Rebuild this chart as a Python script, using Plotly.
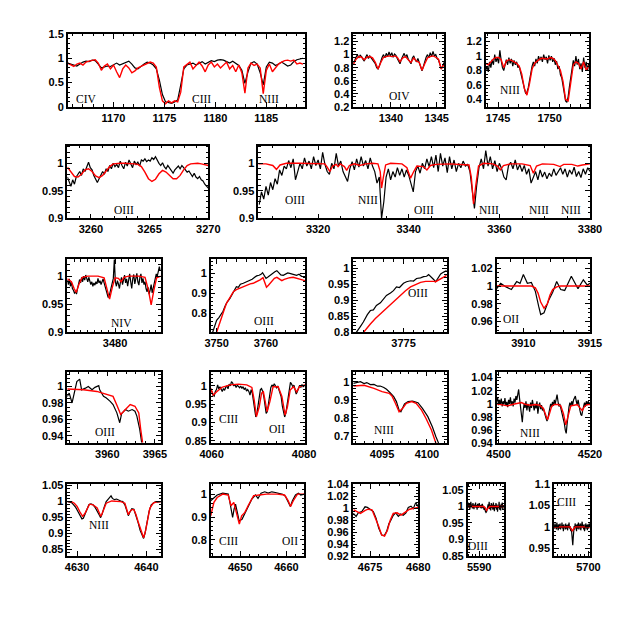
import numpy as np
import plotly.graph_objects as go

# page body has an 8px margin, so the figure is placed at (8, 8)
OFF = 8
W = H = 623 - 2 * OFF


def wave(start, step, vals):
    return np.round(start + step * np.arange(len(vals)), 3)


# ---------------- row 1 ----------------
civ_obs = [0.90, 0.88, 0.86, 0.84, 0.88, 0.92, 0.94, 0.93, 0.96, 0.95, 0.88, 0.80, 0.82, 0.84, 0.83,
           0.87, 0.90, 0.86, 0.89, 0.92, 0.94, 0.88, 0.80, 0.78, 0.84, 0.88, 0.92, 0.90, 0.86, 0.78,
           0.55, 0.25, 0.10, 0.08, 0.07, 0.10, 0.14, 0.45, 0.78, 0.86, 0.88, 0.90, 0.86, 0.90, 0.93,
           0.88, 0.92, 0.95, 0.93, 0.96, 0.97, 0.96, 0.93, 0.90, 0.94, 0.90, 0.85, 0.75, 0.48, 0.72,
           0.90, 0.93, 0.88, 0.70, 0.45, 0.82, 0.92, 0.90, 0.85, 0.88, 0.92, 0.88, 0.84, 0.86, 0.93,
           0.97, 0.99, 1.00]
civ_mod = [0.90, 0.87, 0.83, 0.88, 0.90, 0.86, 0.92, 0.94, 0.96, 0.97, 0.90, 0.75, 0.84, 0.88, 0.78,
           0.86, 0.72, 0.60, 0.78, 0.86, 0.80, 0.70, 0.74, 0.80, 0.83, 0.86, 0.88, 0.92, 0.90, 0.82,
           0.40, 0.12, 0.06, 0.12, 0.08, 0.12, 0.10, 0.30, 0.82, 0.88, 0.92, 0.78, 0.85, 0.92, 0.84,
           0.72, 0.86, 0.92, 0.82, 0.88, 0.80, 0.86, 0.92, 0.78, 0.85, 0.72, 0.86, 0.70, 0.28, 0.80,
           0.90, 0.85, 0.88, 0.80, 0.27, 0.75, 0.88, 0.72, 0.80, 0.88, 0.92, 0.95, 0.96, 0.94, 0.96,
           0.88, 0.90, 0.88]
civ_w = wave(1165.5, 0.3, civ_obs)

oiv_obs = [0.86, 0.92, 0.96, 1.00, 0.95, 0.99, 0.97, 0.93, 0.90, 0.96, 1.00, 0.94, 0.98, 0.95, 0.92,
           0.90, 0.86, 0.80, 0.78, 0.83, 0.90, 0.96, 1.00, 0.95, 1.02, 0.97, 1.04, 0.98, 1.03, 0.96,
           1.01, 0.99, 0.94, 0.91, 0.86, 0.93, 0.98, 1.02, 0.96, 1.00, 0.93, 0.90, 0.86, 0.95, 0.98,
           0.92, 0.89, 0.94, 0.87, 0.80, 0.75, 0.82, 0.90, 0.96, 1.00, 0.95, 1.03, 0.97, 1.05, 0.98,
           1.00, 0.94, 0.92, 0.85, 0.78, 0.82, 0.88]
oiv_mod = [0.85, 0.93, 0.97, 0.96, 0.92, 0.96, 0.97, 0.95, 0.88, 0.78, 0.88, 0.96, 0.97, 0.98, 0.97,
           0.98, 0.96, 0.89, 0.95, 0.97, 0.92, 0.88, 0.95, 0.90, 0.88, 0.76, 0.86, 0.95, 0.97, 0.98,
           0.96, 0.93, 0.78, 0.85]

n1750_obs = [0.80, 0.86, 0.78, 0.92, 0.84, 0.95, 0.88, 1.02, 0.92, 0.98, 0.90, 1.08, 0.94, 0.84, 0.80,
             0.90, 0.95, 0.88, 0.98, 0.90, 0.96, 0.86, 0.94, 0.88, 0.92, 0.84, 0.86, 0.78, 0.70, 0.60,
             0.52, 0.48, 0.50, 0.56, 0.66, 0.78, 0.86, 0.92, 0.86, 0.96, 0.90, 1.00, 0.94, 0.99, 0.92,
             1.02, 0.95, 0.99, 0.90, 1.01, 0.94, 1.00, 0.92, 0.97, 0.88, 0.93, 0.82, 0.86, 0.74, 0.70,
             0.58, 0.46, 0.38, 0.36, 0.44, 0.58, 0.70, 0.82, 0.94, 0.86, 1.00, 0.88, 0.96, 0.82, 0.90,
             0.78, 0.98, 0.84, 0.92, 0.80, 0.90]
n1750_mod = [0.90, 0.88, 0.92, 0.96, 0.98, 0.98, 0.95, 0.84, 0.93, 0.95, 0.94, 0.92, 0.90, 0.86, 0.75,
             0.55, 0.46, 0.62, 0.82, 0.90, 0.93, 0.96, 0.97, 0.97, 0.96, 0.98, 0.97, 0.94, 0.88, 0.80,
             0.65, 0.40, 0.38, 0.62, 0.88, 0.92, 0.90, 0.82, 0.92, 0.80, 0.87]

# ---------------- row 2 ----------------
o3265_obs = [0.975, 0.965, 0.958, 0.970, 0.962, 0.975, 0.980, 0.985, 0.978, 0.990, 0.985, 0.995, 1.002,
             0.992, 0.988, 0.978, 0.970, 0.965, 0.972, 0.978, 0.985, 0.980, 0.990, 0.985, 0.996, 0.990,
             1.000, 0.994, 0.998, 0.992, 1.004, 0.996, 0.990, 1.002, 0.995, 1.006, 0.998, 0.992, 1.004,
             0.998, 1.002, 0.995, 1.006, 1.004, 1.008, 1.003, 1.006, 1.004, 1.010, 1.007, 1.012, 1.005,
             1.000, 0.996, 1.001, 0.994, 0.990, 0.996, 0.992, 0.986, 0.982, 0.988, 0.992, 0.995, 0.990,
             0.996, 0.992, 0.988, 0.984, 0.986, 0.980, 0.976, 0.982, 0.975, 0.972, 0.976, 0.970, 0.968,
             0.962, 0.958, 0.955]
o3265_mod = [0.993, 0.985, 0.976, 0.975, 0.980, 0.988, 0.990, 0.985, 0.977, 0.974, 0.978, 0.986, 0.994,
             0.999, 1.000, 1.000, 1.000, 1.000, 1.000, 0.999, 0.998, 0.994, 0.984, 0.972, 0.967, 0.971,
             0.981, 0.987, 0.984, 0.977, 0.972, 0.972, 0.978, 0.988, 0.996, 0.999, 1.000, 1.000, 0.999,
             0.997, 0.996]

big_obs = [0.925, 0.948, 0.935, 0.958, 0.942, 0.965, 0.952, 0.972, 0.962, 0.988, 0.978, 0.995, 0.990,
           1.005, 0.992, 1.008, 0.970, 0.988, 1.000, 0.990, 1.010, 0.995, 1.004, 0.990, 1.012, 0.996,
           1.006, 0.990, 1.020, 0.998, 0.985, 0.980, 1.000, 0.990, 1.018, 0.995, 1.004, 0.985, 0.975,
           0.967, 0.990, 1.003, 0.988, 1.008, 0.993, 1.012, 0.995, 1.005, 0.990, 1.010, 0.995, 0.985,
           0.964, 0.975, 0.900, 0.930, 0.975, 0.990, 0.970, 0.985, 0.975, 0.992, 0.978, 0.990, 0.975,
           0.988, 0.978, 0.960, 0.948, 0.985, 0.995, 0.982, 1.000, 0.990, 1.008, 0.994, 1.012, 0.992,
           1.015, 0.985, 1.018, 0.995, 1.010, 0.983, 1.012, 0.990, 1.006, 0.985, 1.000, 0.992, 1.004,
           0.995, 0.998, 0.985, 0.945, 0.918, 0.960, 0.992, 1.008, 0.990, 1.023, 0.995, 1.012, 0.990,
           1.005, 0.985, 1.000, 0.990, 0.975, 0.970, 0.995, 1.002, 0.990, 1.006, 0.988, 0.998, 0.985,
           0.996, 0.980, 0.990, 0.964, 0.975, 0.985, 0.970, 0.988, 0.975, 0.984, 0.972, 0.982, 0.976,
           0.990, 0.978, 0.986, 0.992, 0.980, 0.990, 0.975, 0.988, 0.980, 0.993, 0.976, 0.985, 0.974,
           0.990, 0.980, 0.992, 0.985]
big_mod_w = [3306.8, 3308.5, 3310.0, 3310.8, 3311.6, 3313.0, 3316.0, 3319.0, 3321.5, 3322.0, 3322.6,
             3323.2, 3324.0, 3324.4, 3324.9, 3325.8, 3326.3, 3326.9, 3328.0, 3329.2, 3330.5, 3332.0,
             3333.2, 3333.7, 3334.0, 3334.4, 3334.9, 3336.0, 3338.5, 3339.6, 3340.4, 3341.1, 3341.8,
             3343.2, 3344.0, 3344.8, 3346.0, 3349.0, 3352.0, 3353.3, 3353.8, 3354.3, 3354.8, 3355.4,
             3356.5, 3358.5, 3359.6, 3360.2, 3360.9, 3362.5, 3365.0, 3366.8, 3367.5, 3368.2, 3369.5,
             3372.0, 3373.4, 3374.2, 3376.0, 3377.3, 3378.3, 3380.0]
big_mod = [0.999, 0.999, 0.996, 0.989, 0.997, 1.000, 1.000, 1.000, 0.999, 0.993, 0.985, 0.995, 0.998,
           0.994, 0.999, 0.994, 0.987, 0.996, 0.999, 0.996, 0.999, 1.000, 0.999, 0.985, 0.955, 0.975,
           0.997, 1.000, 0.999, 0.992, 0.973, 0.985, 0.995, 0.994, 0.988, 0.996, 0.998, 0.999, 0.998,
           0.997, 0.975, 0.926, 0.960, 0.995, 1.000, 0.999, 0.995, 0.988, 0.996, 0.999, 0.999, 0.996,
           0.982, 0.995, 0.999, 0.998, 0.994, 0.998, 0.998, 0.995, 0.997, 0.999]

# ---------------- row 3 ----------------
niv_obs = [0.993, 0.985, 0.995, 0.982, 0.990, 0.978, 0.975, 0.970, 0.972, 0.968, 0.978, 0.985, 0.994,
           0.988, 0.998, 0.990, 1.000, 0.993, 1.002, 0.996, 0.990, 0.998, 0.992, 0.985, 0.990, 0.982,
           0.988, 0.984, 0.990, 0.986, 0.996, 0.988, 0.992, 0.985, 0.990, 0.995, 0.988, 0.980, 0.974,
           0.968, 0.962, 0.965, 0.972, 0.982, 0.990, 0.996, 1.030, 0.990, 0.982, 0.992, 0.986, 0.978,
           0.990, 0.998, 0.985, 0.993, 1.002, 0.988, 0.995, 0.982, 0.998, 1.004, 0.990, 0.978, 0.995,
           1.003, 0.986, 0.994, 1.005, 0.990, 0.984, 0.998, 1.004, 0.988, 0.996, 0.985, 0.990, 0.978,
           0.972, 0.980, 0.968, 0.975, 0.985, 0.970, 0.978, 0.990, 0.998, 1.004, 1.000, 1.012, 1.017,
           1.010]
niv_mod_w = [3473.0, 3473.6, 3474.0, 3474.3, 3474.7, 3475.2, 3476.0, 3477.5, 3478.4, 3478.8, 3479.2,
             3479.6, 3480.0, 3480.5, 3480.9, 3481.3, 3482.0, 3483.5, 3484.4, 3484.9, 3485.3, 3485.7,
             3486.1, 3486.7]
niv_mod = [0.995, 0.990, 0.978, 0.971, 0.985, 0.998, 1.000, 1.000, 0.997, 0.980, 0.959, 0.980, 0.997,
           0.996, 0.990, 0.998, 1.000, 1.000, 0.998, 0.975, 0.949, 0.975, 0.997, 1.000]

o3760_obs_w = [3749.2, 3749.6, 3750.0, 3750.5, 3751.0, 3751.3, 3751.7, 3752.1, 3752.7, 3753.2, 3753.6,
               3754.0, 3754.4, 3754.8, 3755.4, 3755.9, 3756.3, 3756.7, 3757.2, 3757.7, 3758.1, 3758.6,
               3759.0, 3759.3, 3759.6, 3760.0, 3760.4, 3760.8, 3761.3, 3761.8, 3762.2, 3762.6, 3763.0,
               3763.5, 3764.0, 3764.4, 3764.8, 3765.3, 3765.8, 3766.2, 3766.7, 3767.2, 3767.9]
o3760_obs = [0.705, 0.740, 0.765, 0.780, 0.800, 0.810, 0.835, 0.855, 0.875, 0.900, 0.920, 0.933, 0.930,
             0.945, 0.950, 0.955, 0.962, 0.967, 0.970, 0.980, 0.987, 0.990, 0.995, 1.003, 0.990, 0.975,
             0.982, 0.990, 1.000, 1.008, 1.013, 1.000, 0.992, 0.990, 0.995, 1.002, 1.000, 0.995, 0.992,
             0.990, 0.995, 0.985, 0.983]
o3760_mod_w = [3750.0, 3750.5, 3751.0, 3751.5, 3752.0, 3752.7, 3753.4, 3754.0, 3754.7, 3755.4, 3756.1,
               3756.8, 3757.4, 3758.1, 3758.8, 3759.4, 3759.7, 3760.1, 3760.5, 3761.1, 3761.7, 3762.2,
               3762.7, 3763.2, 3763.7, 3764.2, 3764.8, 3765.5, 3766.2, 3767.0, 3767.9]
o3760_mod = [0.705, 0.745, 0.780, 0.815, 0.850, 0.882, 0.908, 0.918, 0.925, 0.935, 0.942, 0.947, 0.950,
             0.958, 0.967, 0.978, 0.960, 0.930, 0.940, 0.958, 0.975, 0.980, 0.970, 0.963, 0.970, 0.975,
             0.978, 0.980, 0.975, 0.968, 0.963]

o3775_obs_w = [3770.0, 3770.3, 3770.7, 3771.0, 3771.4, 3771.7, 3772.0, 3772.3, 3772.7, 3773.0, 3773.3,
               3773.7, 3774.0, 3774.3, 3774.6, 3775.0, 3775.3, 3775.7, 3776.0, 3776.3, 3776.7, 3777.0,
               3777.3, 3777.5, 3777.8, 3778.0, 3778.2, 3778.5, 3778.7, 3779.0, 3779.3]
o3775_obs = [0.780, 0.800, 0.818, 0.832, 0.855, 0.868, 0.870, 0.884, 0.892, 0.905, 0.915, 0.923, 0.930,
             0.942, 0.940, 0.953, 0.958, 0.961, 0.960, 0.968, 0.970, 0.974, 0.975, 0.980, 0.972, 0.965,
             0.958, 0.972, 0.982, 0.988, 0.993]
o3775_mod_w = [3770.5, 3771.0, 3771.7, 3772.2, 3772.7, 3773.2, 3773.7, 3774.2, 3774.7, 3775.2, 3775.7,
               3776.2, 3776.7, 3777.2, 3777.7, 3778.0, 3778.2, 3778.5, 3778.8, 3779.3]
o3775_mod = [0.780, 0.800, 0.826, 0.843, 0.858, 0.872, 0.886, 0.901, 0.915, 0.930, 0.942, 0.950, 0.956,
             0.959, 0.960, 0.959, 0.958, 0.964, 0.970, 0.978]

o3910_obs_w = [3908.0, 3908.3, 3908.7, 3909.1, 3909.5, 3909.75, 3910.0, 3910.3, 3910.6, 3910.9, 3911.15,
               3911.3, 3911.55, 3911.9, 3912.2, 3912.5, 3912.8, 3913.1, 3913.6, 3913.9, 3914.1, 3914.5,
               3914.8, 3915.0]
o3910_obs = [0.997, 1.003, 0.999, 0.996, 1.005, 1.003, 1.013, 1.003, 1.004, 0.994, 0.977, 0.968, 0.970,
             0.984, 0.993, 1.005, 0.996, 0.995, 1.011, 1.003, 0.997, 1.007, 1.001, 1.003]
o3910_mod_w = [3908.0, 3910.6, 3910.9, 3911.1, 3911.3, 3911.55, 3911.8, 3912.0, 3912.2, 3912.5, 3912.8, 3915.0]
o3910_mod = [1.000, 1.000, 0.998, 0.992, 0.982, 0.975, 0.980, 0.990, 0.996, 0.999, 1.000, 1.000]

# ---------------- row 4 ----------------
o3960_obs_w = [3955.8, 3956.0, 3956.3, 3956.6, 3956.8, 3957.1, 3957.3, 3957.7, 3958.0, 3958.4, 3958.7,
               3959.1, 3959.2, 3959.6, 3959.9, 3960.3, 3960.6, 3961.0, 3961.3, 3961.5, 3961.9, 3962.2,
               3962.6, 3962.9, 3963.1, 3963.4, 3963.6]
o3960_obs = [0.988, 0.992, 0.980, 0.996, 1.006, 1.009, 0.996, 0.998, 1.000, 0.996, 0.999, 1.001, 0.996,
             0.988, 0.986, 0.982, 0.978, 0.968, 0.956, 0.967, 0.972, 0.970, 0.972, 0.970, 0.964, 0.948,
             0.932]
o3960_mod_w = [3955.8, 3957.5, 3958.9, 3959.9, 3960.6, 3961.05, 3961.4, 3961.9, 3962.4, 3962.9, 3963.3,
               3963.5, 3963.7]
o3960_mod = [0.997, 0.996, 0.994, 0.991, 0.988, 0.976, 0.966, 0.972, 0.978, 0.976, 0.968, 0.948, 0.932]

o4070_obs = [0.990, 0.985, 0.975, 0.972, 0.985, 0.990, 1.003, 0.992, 0.998, 0.990, 0.985, 0.993, 0.988,
             0.996, 1.000, 0.992, 1.005, 1.000, 1.012, 1.008, 1.000, 1.004, 0.996, 1.002, 0.998, 0.995,
             1.000, 0.993, 0.998, 0.990, 0.995, 0.986, 0.990, 0.985, 0.975, 0.990, 0.980, 0.955, 0.930,
             0.915, 0.925, 0.950, 0.975, 0.990, 0.993, 0.985, 0.970, 0.945, 0.925, 0.930, 0.955, 0.980,
             0.995, 1.003, 0.998, 1.006, 1.000, 0.995, 1.000, 0.990, 0.985, 0.970, 0.945, 0.925, 0.915,
             0.925, 0.950, 0.975, 0.995, 1.010, 1.005, 0.998, 1.002, 0.990, 0.978, 0.985, 0.995, 1.002,
             0.996, 1.004, 0.998, 1.000]
o4070_mod_w = [4059.8, 4060.35, 4061.1, 4062.2, 4064.0, 4065.8, 4067.6, 4068.7, 4069.2, 4069.7, 4070.3,
               4070.8, 4071.2, 4071.5, 4072.0, 4072.6, 4073.3, 4074.4, 4075.2, 4075.9, 4076.4, 4077.0,
               4077.7, 4078.4, 4079.0, 4080.2]
o4070_mod = [0.994, 0.975, 0.984, 0.996, 1.003, 1.005, 1.003, 0.996, 0.962, 0.916, 0.943, 0.980, 0.984,
             0.966, 0.930, 0.957, 0.998, 0.998, 0.971, 0.920, 0.943, 0.989, 0.998, 0.984, 0.998, 1.003]

n4097_obs_w = [4091.8, 4092.2, 4092.6, 4093.0, 4093.3, 4093.7, 4094.1, 4094.5, 4094.8, 4095.2, 4095.5,
               4095.9, 4096.3, 4096.6, 4096.9, 4097.1, 4097.5, 4097.9, 4098.4, 4099.0, 4099.5, 4100.1,
               4100.6, 4101.0, 4101.3]
n4097_obs = [0.991, 0.996, 1.000, 0.990, 0.995, 0.984, 0.985, 0.975, 0.976, 0.968, 0.958, 0.939, 0.917,
             0.890, 0.843, 0.834, 0.877, 0.890, 0.893, 0.884, 0.853, 0.807, 0.751, 0.696, 0.660]
n4097_mod_w = [4091.8, 4093.0, 4094.1, 4095.0, 4095.8, 4096.1, 4096.5, 4096.9, 4097.3, 4097.7, 4098.3,
               4098.8, 4099.4, 4099.9, 4100.5, 4100.9, 4101.0]
n4097_mod = [0.976, 0.980, 0.963, 0.945, 0.936, 0.921, 0.880, 0.834, 0.853, 0.880, 0.890, 0.880, 0.843,
             0.797, 0.733, 0.678, 0.660]

n4510_obs = [1.004, 1.010, 0.998, 1.006, 1.000, 1.008, 0.996, 1.004, 0.999, 1.009, 0.997, 1.003, 0.995,
             1.006, 1.000, 1.010, 0.998, 1.004, 0.996, 1.008, 1.002, 1.012, 1.006, 1.016, 1.022, 1.008,
             0.995, 0.985, 0.972, 0.990, 1.000, 0.994, 1.004, 0.990, 1.000, 0.996, 0.988, 1.002, 0.994,
             1.006, 0.998, 0.990, 1.000, 0.993, 1.004, 0.985, 0.996, 1.002, 0.992, 0.998, 0.990, 0.994,
             0.988, 0.980, 0.978, 0.974, 0.978, 0.986, 0.994, 1.000, 0.995, 1.003, 0.997, 1.006, 1.000,
             1.010, 1.014, 1.004, 0.996, 1.000, 0.994, 0.990, 0.984, 0.978, 0.970, 0.960, 0.955, 0.970,
             0.985, 0.995, 1.002, 0.996, 1.004, 0.998, 1.006, 1.010, 1.012, 1.004, 0.998, 1.006, 0.995,
             0.990, 0.984, 0.982, 0.990, 0.996, 1.002, 0.996, 1.004, 0.998, 1.004, 1.000, 1.002]
n4510_mod_w = [4499.6, 4501.0, 4502.0, 4503.0, 4504.0, 4505.0, 4506.0, 4507.0, 4508.0, 4509.0, 4509.8,
               4510.3, 4510.7, 4511.1, 4511.6, 4512.2, 4513.0, 4513.6, 4514.2, 4514.7, 4515.2, 4515.8,
               4516.5, 4517.2, 4517.8, 4518.3, 4518.8, 4519.4, 4520.0]
n4510_mod = [1.000, 0.998, 0.997, 0.999, 1.000, 1.002, 0.999, 0.998, 0.999, 0.998, 0.993, 0.982, 0.976,
             0.984, 0.996, 0.999, 0.999, 0.997, 0.985, 0.968, 0.982, 0.997, 0.998, 0.999, 0.994, 0.990,
             0.996, 0.999, 0.999]

# ---------------- row 5 ----------------
n4640_obs_w = [4628.6, 4628.9, 4629.2, 4629.5, 4629.8, 4630.1, 4630.4, 4630.7, 4630.9, 4631.1, 4631.4,
               4631.7, 4632.0, 4632.3, 4632.6, 4632.9, 4633.2, 4633.4, 4633.6, 4633.9, 4634.2, 4634.5,
               4634.7, 4634.9, 4635.1, 4635.4, 4635.7, 4636.0, 4636.3, 4636.6, 4636.9, 4637.2, 4637.4,
               4637.6, 4637.9, 4638.2, 4638.5, 4638.8, 4639.1, 4639.4, 4639.6, 4639.8, 4640.1, 4640.4,
               4640.7, 4641.0, 4641.3, 4641.6, 4642.1]
n4640_obs = [1.000, 0.998, 0.997, 0.990, 0.982, 0.970, 0.958, 0.946, 0.948, 0.960, 0.978, 0.990, 0.993,
             0.990, 0.982, 0.972, 0.958, 0.950, 0.960, 0.982, 1.000, 1.008, 1.012, 1.018, 1.010, 1.006,
             1.008, 1.004, 1.002, 1.000, 0.990, 0.970, 0.956, 0.966, 0.978, 0.976, 0.958, 0.935, 0.910,
             0.892, 0.885, 0.900, 0.935, 0.970, 0.990, 0.996, 1.000, 0.998, 1.000]
n4640_mod_w = [4628.6, 4629.2, 4629.6, 4630.0, 4630.4, 4630.8, 4631.1, 4631.4, 4631.8, 4632.3, 4632.9,
               4633.2, 4633.4, 4633.6, 4633.9, 4634.2, 4635.0, 4636.3, 4636.9, 4637.2, 4637.4, 4637.6,
               4637.9, 4638.2, 4638.5, 4638.8, 4639.2, 4639.6, 4639.9, 4640.2, 4640.5, 4641.0, 4641.5,
               4642.1]
n4640_mod = [1.000, 1.000, 0.995, 0.985, 0.968, 0.954, 0.962, 0.975, 0.992, 0.990, 0.980, 0.965, 0.954,
             0.962, 0.978, 0.995, 1.002, 1.000, 0.995, 0.972, 0.959, 0.968, 0.975, 0.975, 0.960, 0.938,
             0.913, 0.887, 0.910, 0.945, 0.979, 0.995, 0.999, 1.000]

c4650_obs_w = [4643.6, 4644.3, 4645.0, 4646.2, 4647.4, 4647.7, 4647.97, 4648.35, 4648.66, 4648.98, 4649.37,
               4649.76, 4650.39, 4650.95, 4651.73, 4652.5, 4653.3, 4653.85, 4654.5, 4655.3, 4656.06, 4656.84,
               4657.6, 4658.4, 4659.2, 4659.8, 4660.4, 4660.87, 4661.3, 4661.97, 4662.6, 4663.1, 4663.9]
c4650_obs = [0.971, 0.985, 0.996, 1.004, 1.000, 0.971, 0.934, 0.898, 0.934, 0.956, 0.920, 0.883, 0.890,
             0.912, 0.949, 0.978, 0.996, 0.981, 1.004, 1.010, 1.004, 1.010, 1.007, 1.003, 0.999, 0.990,
             0.966, 0.946, 0.971, 0.996, 1.004, 0.996, 1.000]
c4650_mod_w = [4643.6, 4644.3, 4645.0, 4646.2, 4647.4, 4648.0, 4648.6, 4649.2, 4649.8, 4650.3, 4651.0,
               4651.7, 4652.9, 4654.1, 4655.7, 4658.0, 4659.6, 4660.4, 4660.9, 4661.5, 4662.4, 4663.9]
c4650_mod = [0.905, 0.964, 0.985, 1.000, 0.996, 0.949, 0.964, 0.920, 0.869, 0.905, 0.920, 0.949, 0.993,
             0.996, 1.000, 1.000, 0.996, 0.971, 0.946, 0.971, 1.000, 1.000]

h4676_obs_w = [4673.27, 4673.55, 4673.79, 4674.14, 4674.48, 4674.72, 4675.0, 4675.34, 4675.62, 4675.9,
               4676.21, 4676.48, 4676.72, 4676.96, 4677.17, 4677.41, 4677.66, 4677.93, 4678.17, 4678.44,
               4678.72, 4678.96, 4679.24, 4679.48, 4679.73, 4680.0]
h4676_obs = [0.991, 0.986, 0.992, 0.994, 1.002, 1.001, 0.998, 0.994, 0.983, 0.966, 0.955, 0.954, 0.961,
             0.974, 0.980, 0.988, 0.992, 0.986, 0.990, 0.988, 0.992, 1.001, 1.003, 0.999, 1.009, 1.002]
h4676_mod_w = [4673.3, 4674.0, 4674.5, 4674.8, 4675.2, 4675.5, 4675.9, 4676.2, 4676.5, 4676.8, 4677.1,
               4677.4, 4677.8, 4678.2, 4678.6, 4679.1, 4680.0]
h4676_mod = [0.997, 0.991, 0.996, 0.998, 0.997, 0.986, 0.969, 0.955, 0.953, 0.963, 0.980, 0.991, 0.992,
             0.988, 0.992, 0.998, 1.001]

o5592_obs = [1.000, 1.012, 0.996, 1.008, 0.990, 1.004, 1.014, 0.998, 1.006, 0.994, 1.010, 1.000, 0.992,
             1.006, 0.998, 1.012, 0.996, 1.004, 0.990, 1.008, 1.002, 0.996, 1.010, 0.998, 1.004, 0.995,
             1.006, 0.994, 1.008, 0.996, 1.002, 0.990, 0.996, 0.986, 0.985, 0.982, 0.984, 0.990, 0.996,
             1.006, 0.998, 1.014, 0.992, 1.004, 0.988, 1.010, 0.996, 1.006, 0.990, 1.012, 0.998, 0.986,
             1.004, 0.996, 1.010, 0.990, 1.006, 0.984, 1.002, 0.996, 1.014, 0.990, 1.004, 0.988, 1.008,
             0.996, 1.012, 0.990, 1.004, 0.998]
o5592_mod_w = [5586.7, 5591.3, 5591.7, 5592.1, 5592.5, 5593.0, 5597.1]
o5592_mod = [1.000, 1.000, 0.996, 0.988, 0.994, 1.000, 1.000]

c5696_obs = [1.004, 0.996, 1.008, 0.998, 1.002, 0.994, 1.010, 0.998, 1.004, 0.992, 1.006, 1.000, 0.996,
             1.008, 0.994, 1.002, 0.998, 1.010, 0.996, 1.004, 0.990, 1.006, 0.998, 1.002, 0.994, 1.008,
             0.996, 1.004, 1.000, 0.992, 1.006, 0.998, 1.010, 0.996, 1.002, 0.994, 0.990, 0.996, 0.985,
             0.970, 0.957, 0.975, 0.990, 1.002, 0.994, 1.008, 0.998, 1.004, 0.990, 1.006, 0.996, 1.000,
             1.010, 0.994, 1.004, 0.998, 1.008, 0.992, 1.002, 0.996, 1.012, 0.998, 1.004, 0.994, 1.006,
             0.990, 1.002, 0.998, 1.008, 0.996, 1.004, 0.992, 1.006, 1.000, 0.996, 1.008, 1.002]
c5696_mod_w = [5691.2, 5695.3, 5695.6, 5695.9, 5696.2, 5696.6, 5700.4]
c5696_mod = [1.000, 1.000, 0.995, 0.990, 0.995, 1.000, 1.000]

# panel table: box (left, right, top, bottom in page px), ranges, ticks, minor steps, labels
panels = [
    dict(box=(67.7, 305, 34, 106.7), xr=(1165.5, 1188.8), yr=(0, 1.5),
         xt=[1170, 1175, 1180, 1185], yt=[0, 0.5, 1, 1.5], xm=1, ym=0.1,
         obs=(civ_w, civ_obs), mod=(civ_w, civ_mod),
         lab=[("CIV", 1167.3, 0.16), ("CIII", 1178.6, 0.16), ("NIII", 1185.3, 0.16)]),
    dict(box=(353.3, 444, 34, 106.7), xr=(1335.9, 1345.8), yr=(0.2, 1.317),
         xt=[1340, 1345], yt=[0.2, 0.4, 0.6, 0.8, 1, 1.2], xm=1, ym=0.05,
         obs=(wave(1335.9, 0.15, oiv_obs), oiv_obs), mod=(wave(1335.9, 0.3, oiv_mod), oiv_mod),
         lab=[("OIV", 1340.9, 0.365)]),
    dict(box=(485.7, 589.3, 34, 106.7), xr=(1743.8, 1753.85), yr=(0.3, 1.305),
         xt=[1745, 1750], yt=[0.4, 0.6, 0.8, 1, 1.2], xm=1, ym=0.05,
         obs=(wave(1743.8, 0.125, n1750_obs), n1750_obs), mod=(wave(1743.8, 0.25, n1750_mod), n1750_mod),
         lab=[("NIII", 1746.2, 0.537)]),
    dict(box=(67.4, 208.3, 145.7, 218.3), xr=(3258, 3270), yr=(0.9, 1.032),
         xt=[3260, 3265, 3270], yt=[0.9, 0.95, 1], xm=1, ym=0.01,
         obs=(wave(3258, 0.15, o3265_obs), o3265_obs), mod=(wave(3258, 0.3, o3265_mod), o3265_mod),
         lab=[("OIII", 3262.8, 0.915)]),
    dict(box=(258.3, 590, 145.7, 218.3), xr=(3306.8, 3380), yr=(0.9, 1.032),
         xt=[3320, 3340, 3360, 3380], yt=[0.9, 0.95, 1], xm=5, ym=0.01,
         obs=(wave(3307.0, 0.5, big_obs), big_obs), mod=(big_mod_w, big_mod),
         lab=[("OIII", 3315.0, 0.934), ("NIII", 3331.0, 0.934), ("OIII", 3343.4, 0.915),
              ("NIII", 3357.7, 0.915), ("NIII", 3368.8, 0.915), ("NIII", 3375.9, 0.915)]),
    dict(box=(67.3, 160.7, 259.3, 332.3), xr=(3473, 3486.7), yr=(0.9, 1.03),
         xt=[3480], yt=[0.9, 0.95, 1], xm=1, ym=0.01,
         obs=(wave(3473, 0.15, niv_obs), niv_obs), mod=(niv_mod_w, niv_mod),
         lab=[("NIV", 3481.0, 0.9165)]),
    dict(box=(210.7, 305, 259.3, 332.3), xr=(3748.8, 3767.9), yr=(0.705, 1.07),
         xt=[3750, 3760], yt=[0.8, 0.9, 1], xm=2, ym=0.02,
         obs=(o3760_obs_w, o3760_obs), mod=(o3760_mod_w, o3760_mod),
         lab=[("OIII", 3759.5, 0.763)]),
    dict(box=(353.3, 446.7, 259.3, 332.3), xr=(3770, 3779.3), yr=(0.8, 1.028),
         xt=[3775], yt=[0.8, 0.85, 0.9, 0.95, 1], xm=1, ym=0.01,
         obs=(o3775_obs_w, o3775_obs), mod=(o3775_mod_w, o3775_mod),
         lab=[("OIII", 3776.4, 0.923)]),
    dict(box=(496.7, 590, 259.3, 332.3), xr=(3908, 3915), yr=(0.948, 1.03),
         xt=[3910, 3915], yt=[0.96, 0.98, 1, 1.02], xm=1, ym=0.005,
         obs=(o3910_obs_w, o3910_obs), mod=(o3910_mod_w, o3910_mod),
         lab=[("OII", 3909.05, 0.9626)]),
    dict(box=(67.3, 160.7, 371.7, 443.3), xr=(3955.8, 3965.6), yr=(0.931, 1.018),
         xt=[3960, 3965], yt=[0.94, 0.96, 0.98, 1, 1.02], xm=1, ym=0.005,
         obs=(o3960_obs_w, o3960_obs), mod=(o3960_mod_w, o3960_mod),
         lab=[("OIII", 3959.76, 0.9448)]),
    dict(box=(210.7, 305, 371.7, 443.3), xr=(4059.8, 4080.2), yr=(0.843, 1.039),
         xt=[4060, 4080], yt=[0.85, 0.9, 0.95, 1], xm=2, ym=0.01,
         obs=(wave(4059.8, 0.25, o4070_obs), o4070_obs), mod=(o4070_mod_w, o4070_mod),
         lab=[("CIII", 4063.7, 0.9086), ("OII", 4074.1, 0.881)]),
    dict(box=(353.3, 446.7, 371.7, 443.3), xr=(4091.8, 4102.2), yr=(0.66, 1.055),
         xt=[4095, 4100], yt=[0.7, 0.8, 0.9, 1], xm=1, ym=0.02,
         obs=(n4097_obs_w, n4097_obs), mod=(n4097_mod_w, n4097_mod),
         lab=[("NIII", 4095.2, 0.733)]),
    dict(box=(496.7, 590, 371.7, 443.3), xr=(4499.6, 4520), yr=(0.94, 1.049),
         xt=[4500, 4520], yt=[0.94, 0.96, 0.98, 1, 1.02, 1.04], xm=2, ym=0.005,
         obs=(wave(4499.6, 0.2, n4510_obs), n4510_obs), mod=(n4510_mod_w, n4510_mod),
         lab=[("NIII", 4506.8, 0.955)]),
    dict(box=(67.4, 160.9, 484, 556), xr=(4628.6, 4642.1), yr=(0.83, 1.055),
         xt=[4630, 4640], yt=[0.85, 0.9, 0.95, 1, 1.05], xm=2, ym=0.01,
         obs=(n4640_obs_w, n4640_obs), mod=(n4640_mod_w, n4640_mod),
         lab=[("NIII", 4633.2, 0.928)]),
    dict(box=(210.7, 304.4, 484, 556), xr=(4643.6, 4663.9), yr=(0.73, 1.044),
         xt=[4650, 4660], yt=[0.8, 0.9, 1], xm=2, ym=0.02,
         obs=(c4650_obs_w, c4650_obs), mod=(c4650_mod_w, c4650_mod),
         lab=[("CIII", 4647.4, 0.796), ("OII", 4660.8, 0.796)]),
    dict(box=(352.7, 418.3, 484, 556), xr=(4673.2, 4680), yr=(0.92, 1.04),
         xt=[4675, 4680], yt=[0.92, 0.94, 0.96, 0.98, 1, 1.02, 1.04], xm=1, ym=0.005,
         obs=(h4676_obs_w, h4676_obs), mod=(h4676_mod_w, h4676_mod),
         lab=[]),
    dict(box=(467.7, 504, 484, 556), xr=(5586.7, 5597.1), yr=(0.85, 1.068),
         xt=[5590], yt=[0.85, 0.9, 0.95, 1, 1.05], xm=1, ym=0.01,
         obs=(wave(5586.7, 0.15, o5592_obs), o5592_obs), mod=(o5592_mod_w, o5592_mod),
         lab=[("OIII", 5589.7, 0.88)]),
    dict(box=(554, 590, 484, 556), xr=(5691.2, 5700.4), yr=(0.932, 1.1),
         xt=[5700], yt=[0.95, 1, 1.05, 1.1], xm=1, ym=0.01,
         obs=(wave(5691.2, 0.12, c5696_obs), c5696_obs), mod=(c5696_mod_w, c5696_mod),
         lab=[("CIII", 5694.5, 1.058)]),
]

tickfont = dict(family="Liberation Sans", size=11, color="black", weight="bold")
labfont = dict(family="Liberation Serif", size=11.5, color="black")

fig = go.Figure()
layout = {}
annotations = []
for i, p in enumerate(panels, start=1):
    xa, ya = "x%d" % i, "y%d" % i
    fig.add_trace(go.Scatter(x=p["obs"][0], y=p["obs"][1], mode="lines", xaxis=xa, yaxis=ya,
                             line=dict(color="black", width=1.2)))
    fig.add_trace(go.Scatter(x=p["mod"][0], y=p["mod"][1], mode="lines", xaxis=xa, yaxis=ya,
                             line=dict(color="#ff0000", width=1.4)))
    l, r, t, b = [v - OFF for v in p["box"]]
    common = dict(showline=True, linecolor="black", linewidth=1.5, mirror="ticks",
                  ticks="inside", ticklen=5, tickwidth=1, tickcolor="black", automargin=False,
                  showgrid=False, zeroline=False, tickfont=tickfont, tickmode="array")
    layout["xaxis%d" % i] = dict(common, domain=[l / W, r / W], range=list(p["xr"]), anchor=ya,
                                 tickvals=p["xt"], ticktext=["%g" % v for v in p["xt"]],
                                 minor=dict(tick0=p["xt"][0], dtick=p["xm"], ticks="inside",
                                            ticklen=2.5, tickcolor="black"))
    layout["yaxis%d" % i] = dict(common, domain=[1 - b / H, 1 - t / H], range=list(p["yr"]), anchor=xa,
                                 tickvals=p["yt"], ticktext=["%g" % v for v in p["yt"]],
                                 minor=dict(tick0=0, dtick=p["ym"], ticks="inside",
                                            ticklen=2.5, tickcolor="black"))
    for txt, lx, ly in p["lab"]:
        annotations.append(dict(text=txt, x=lx, y=ly, xref=xa, yref=ya, showarrow=False,
                                font=labfont))

fig.update_layout(**layout)
fig.update_layout(width=W, height=H, margin=dict(l=0, r=0, t=0, b=0, autoexpand=False),
                  paper_bgcolor="white", plot_bgcolor="white", showlegend=False,
                  annotations=annotations)
fig.write_html("out.html")
